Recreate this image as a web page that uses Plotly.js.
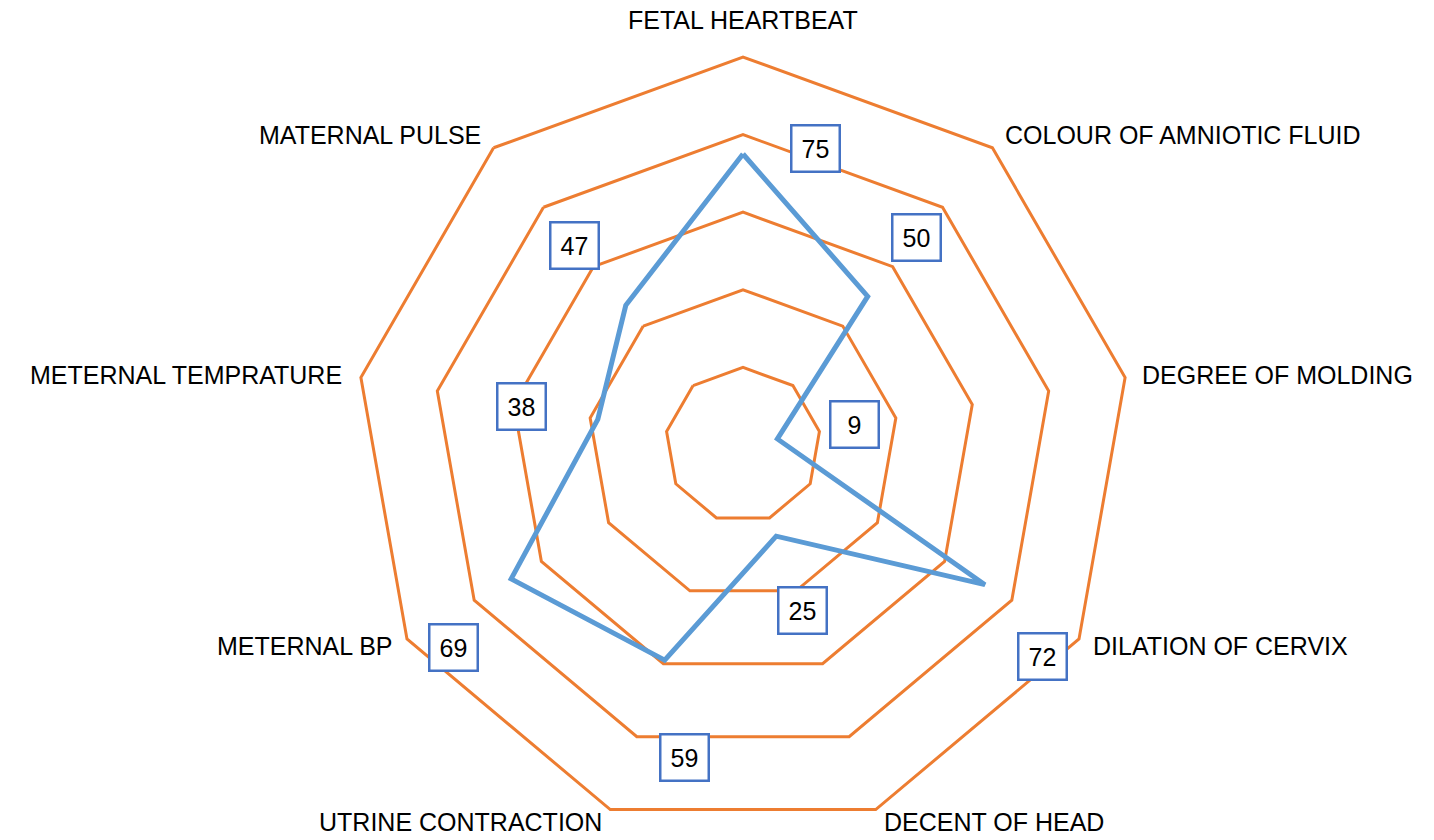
<!DOCTYPE html>
<html>
<head>
<meta charset="utf-8">
<script src="https://cdn.plot.ly/plotly-3.0.1.min.js"></script>
<style>html,body{margin:0;padding:0;background:#fff;}#chart{width:1434px;height:840px;}</style>
</head>
<body>
<div id="chart"></div>
<script>
const categories = ["FETAL HEARTBEAT", "COLOUR OF AMNIOTIC FLUID", "DEGREE OF MOLDING", "DILATION OF CERVIX", "DECENT OF HEAD", "UTRINE CONTRACTION", "METERNAL BP", "METERNAL TEMPRATURE", "MATERNAL PULSE"];
const values = [75, 50, 9, 72, 25, 59, 69, 38, 47];

// label offsets (px) from each data point, as placed in the original
const labelDx = [72, 49, 77, 58, 26, 20, -58, -76, -51];
const labelDy = [-6, -59, -14, 72, 74, 97, 69, -13, -60];
// category label offsets (px) from each outer vertex
const catDx = [0, 11, 15, 12, 6, -6, -12, -17, -11];
const catDy = [-37, -13, -3, 7, 12, 12, 7, -3, -13];

const W = 1434, H = 840;
const M = {l: 52, r: 0, t: 57, b: 7};
const rMax = 100;

const plotW = W - M.l - M.r, plotH = H - M.t - M.b;
const R = Math.min(plotW, plotH) / 2;
const cx = M.l + plotW / 2, cy = M.t + plotH / 2;
const n = categories.length;
const FONT = 'Liberation Sans, Arial, sans-serif';

function toPaper(v, i) {
  const th = i * 2 * Math.PI / n;
  const px = cx + R * v / rMax * Math.sin(th);
  const py = cy - R * v / rMax * Math.cos(th);
  return {x: (px - M.l) / plotW, y: (H - M.b - py) / plotH, s: Math.sin(th)};
}

const annotations = [];
values.forEach((v, i) => {
  const p = toPaper(v, i);
  annotations.push({
    xref: 'paper', yref: 'paper', x: p.x, y: p.y,
    xanchor: 'center', yanchor: 'middle',
    xshift: labelDx[i], yshift: -labelDy[i],
    text: String(v), showarrow: false,
    font: {family: FONT, size: 25, color: '#000'},
    bgcolor: '#ffffff', bordercolor: '#4472C4', borderwidth: 2.5,
    width: 44, height: 42, borderpad: 1
  });
});
categories.forEach((c, i) => {
  const p = toPaper(rMax, i);
  annotations.push({
    xref: 'paper', yref: 'paper', x: p.x, y: p.y,
    xanchor: p.s > 0.1 ? 'left' : (p.s < -0.1 ? 'right' : 'center'),
    yanchor: 'middle',
    xshift: catDx[i], yshift: -catDy[i],
    text: c, showarrow: false,
    font: {family: FONT, size: 25, color: '#000'}
  });
});

const trace = {
  type: 'scatterpolar',
  r: values.concat([values[0]]),
  theta: categories.concat([categories[0]]),
  mode: 'lines',
  line: {color: '#5B9BD5', width: 5},
  hoverinfo: 'skip',
  showlegend: false
};

const layout = {
  width: W, height: H,
  margin: M,
  paper_bgcolor: '#fff',
  showlegend: false,
  font: {family: FONT, color: '#000'},
  polar: {
    domain: {x: [0, 1], y: [0, 1]},
    bgcolor: 'rgba(0,0,0,0)',
    gridshape: 'linear',
    radialaxis: {
      range: [0, rMax], dtick: 20, showticklabels: false, ticks: '',
      showline: false, showgrid: true, gridcolor: '#ED7D31', gridwidth: 3
    },
    angularaxis: {
      type: 'category', categoryarray: categories,
      rotation: 90, direction: 'clockwise',
      showgrid: false, ticks: '', showline: true, showticklabels: false,
      linecolor: '#ED7D31', linewidth: 3
    }
  },
  annotations: annotations
};

Plotly.newPlot('chart', [trace], layout, {displayModeBar: false, staticPlot: true});
</script>
</body>
</html>
